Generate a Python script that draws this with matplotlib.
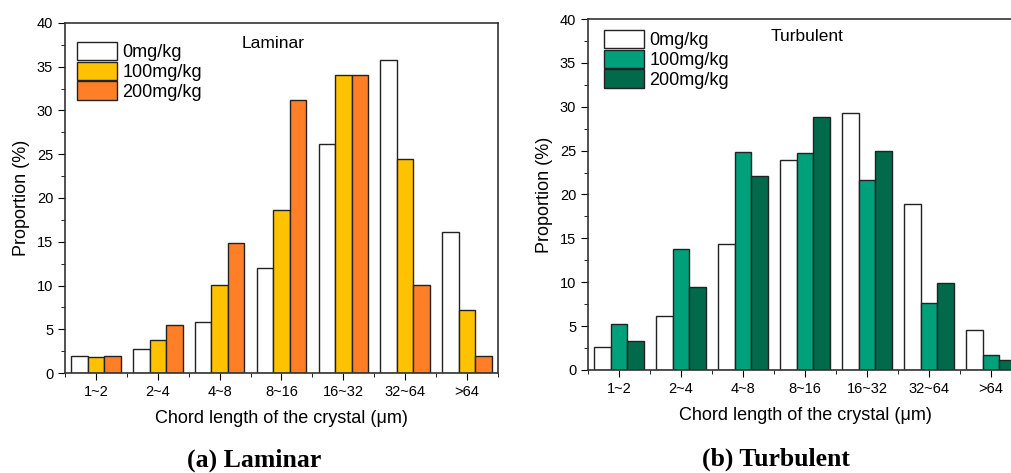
import numpy as np
import matplotlib.pyplot as plt
from matplotlib.ticker import MultipleLocator

plt.rcParams['font.family'] = ['Liberation Sans', 'DejaVu Sans']

# ---------------------- Data ----------------------
categories = ["1~2", "2~4", "4~8", "8~16", "16~32", "32~64", ">64"]
series_labels = ["0mg/kg", "100mg/kg", "200mg/kg"]

laminar_0 = [2.0, 2.7, 5.8, 12.0, 26.2, 35.8, 16.1]
laminar_100 = [1.8, 3.8, 10.1, 18.6, 34.1, 24.4, 7.2]
laminar_200 = [2.0, 5.5, 14.9, 31.2, 34.0, 10.1, 2.0]

turbulent_0 = [2.6, 6.1, 14.4, 23.9, 29.3, 18.9, 4.5]
turbulent_100 = [5.2, 13.8, 24.9, 24.7, 21.7, 7.6, 1.7]
turbulent_200 = [3.3, 9.5, 22.1, 28.8, 25.0, 9.9, 1.1]

laminar_colors = ["white", "#FFC200", "#FF7F27"]
turbulent_colors = ["white", "#00A07B", "#006A4A"]


def draw_panel(ax, series, colors, title, title_pos, legend_anchor):
    x = np.arange(len(categories))
    width = 0.267
    for i, (vals, col) in enumerate(zip(series, colors)):
        ax.bar(x + (i - 1) * width, vals, width, color=col, edgecolor="#222222",
               linewidth=1.0, label=series_labels[i])
    ax.set_xlim(-0.5, len(categories) - 0.5)
    ax.set_ylim(0, 40)
    ax.set_xticks(x)
    ax.set_xticklabels(categories)
    ax.xaxis.set_minor_locator(MultipleLocator(0.5))
    ax.yaxis.set_major_locator(MultipleLocator(5))
    ax.yaxis.set_minor_locator(MultipleLocator(2.5))
    ax.tick_params(axis="both", which="major", direction="out", length=5, labelsize=10.5)
    ax.tick_params(axis="both", which="minor", direction="out", length=3)
    ax.set_xlabel("Chord length of the crystal (μm)", fontsize=13, labelpad=8)
    ax.set_ylabel("Proportion (%)", fontsize=13, labelpad=5)
    for s in ax.spines.values():
        s.set_linewidth(1.2)
        s.set_color("#333333")
    ax.legend(loc="upper left", bbox_to_anchor=legend_anchor, frameon=False,
              fontsize=13, handlelength=2.2, handleheight=1.2,
              labelspacing=0.02, handletextpad=0.3, borderaxespad=0,
              borderpad=0)
    ax.text(title_pos[0], title_pos[1], title, transform=ax.transAxes,
            ha="center", va="center", fontsize=12.5)


fig = plt.figure(figsize=(10.12, 4.73), dpi=100)
ax1 = fig.add_axes([0.0642, 0.2114, 0.4279, 0.74])
ax2 = fig.add_axes([0.581, 0.2178, 0.429, 0.7420])

draw_panel(ax1, [laminar_0, laminar_100, laminar_200], laminar_colors,
           "Laminar", (0.48, 0.94), (0.028, 0.946))
draw_panel(ax2, [turbulent_0, turbulent_100, turbulent_200], turbulent_colors,
           "Turbulent", (0.505, 0.949), (0.037, 0.969))

fig.text(0.251, 0.027, "(a) Laminar", ha="center", va="center",
         fontsize=18.5, fontweight="bold", family="Liberation Serif")
fig.text(0.767, 0.029, "(b) Turbulent", ha="center", va="center",
         fontsize=18.5, fontweight="bold", family="Liberation Serif")

fig.savefig("out.png", dpi=100)
